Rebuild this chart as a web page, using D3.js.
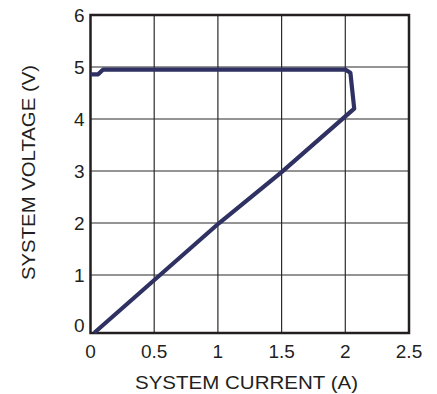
<!DOCTYPE html>
<html>
<head>
<meta charset="utf-8">
<script src="https://cdn.jsdelivr.net/npm/d3@7"></script>
<style>
  body { margin: 0; background: #fff; }
  text { font-family: "Liberation Sans", Arial, sans-serif; fill: #231f20; }
</style>
</head>
<body>
<script>
// chart data
var current = [0, 0.06, 0.085, 0.1, 2.0, 2.04, 2.07, 1.5, 1.01, 0.03];
var voltage = [4.86, 4.86, 4.92, 4.95, 4.95, 4.89, 4.2, 2.98, 2.0, -0.11];
var xTicks = [0, 0.5, 1, 1.5, 2, 2.5];
var yTicks = [0, 1, 2, 3, 4, 5, 6];

var width = 437,
    height = 394;

var x = d3.scaleLinear().domain([0, 2.5]).range([90.5, 409]);
var y = d3.scaleLinear().domain([-0.115, 6]).range([333, 15]);

var svg = d3.select("body").append("svg")
  .attr("width", width)
  .attr("height", height);

// grid
svg.append("g").selectAll("line")
  .data(xTicks.slice(1, -1))
  .enter().append("line")
  .attr("x1", function(d) { return x(d); })
  .attr("x2", function(d) { return x(d); })
  .attr("y1", y(-0.115))
  .attr("y2", y(6))
  .attr("stroke", "#2b2b2b")
  .attr("stroke-width", 1.2);

svg.append("g").selectAll("line")
  .data(yTicks.slice(1, -1))
  .enter().append("line")
  .attr("x1", x(0))
  .attr("x2", x(2.5))
  .attr("y1", function(d) { return y(d); })
  .attr("y2", function(d) { return y(d); })
  .attr("stroke", "#2b2b2b")
  .attr("stroke-width", 1.2);

// frame
svg.append("rect")
  .attr("x", x(0))
  .attr("y", y(6))
  .attr("width", x(2.5) - x(0))
  .attr("height", y(-0.115) - y(6))
  .attr("fill", "none")
  .attr("stroke", "#231f20")
  .attr("stroke-width", 2.5);

// tick labels
svg.append("g").selectAll("text")
  .data(xTicks)
  .enter().append("text")
  .attr("x", function(d) { return x(d); })
  .attr("y", 358)
  .attr("text-anchor", "middle")
  .style("font-size", "19px")
  .text(function(d) { return d; });

svg.append("g").selectAll("text")
  .data(yTicks)
  .enter().append("text")
  .attr("x", x(0) - 6)
  .attr("y", function(d) { return y(d) + (d == 0 ? 5 : 7); })
  .attr("text-anchor", "end")
  .style("font-size", "19px")
  .text(function(d) { return d; });

// axis titles
svg.append("text")
  .attr("x", 135)
  .attr("y", 389)
  .attr("textLength", 223)
  .attr("lengthAdjust", "spacingAndGlyphs")
  .style("font-size", "18.5px")
  .text("SYSTEM CURRENT (A)");

svg.append("text")
  .attr("transform", "translate(35,280) rotate(-90)")
  .attr("textLength", 215)
  .attr("lengthAdjust", "spacingAndGlyphs")
  .style("font-size", "18.5px")
  .text("SYSTEM VOLTAGE (V)");

// curve
var pts = current.map(function(c, i) { return [c, voltage[i]]; });
var line = d3.line()
  .x(function(d) { return x(d[0]); })
  .y(function(d) { return y(d[1]); });

svg.append("path")
  .datum(pts)
  .attr("d", line)
  .attr("fill", "none")
  .attr("stroke", "#2e3162")
  .attr("stroke-width", 4.2)
  .attr("stroke-linejoin", "round");
</script>
</body>
</html>
